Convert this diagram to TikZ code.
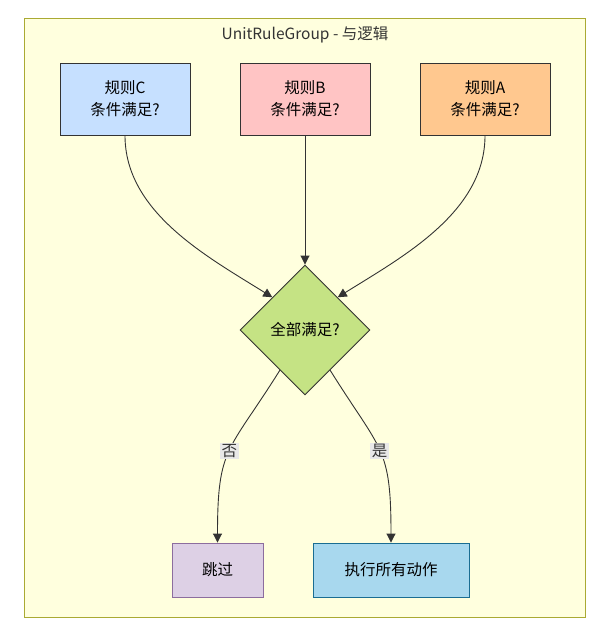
\documentclass[tikz,border=0pt]{standalone}
\usepackage{fontspec}
\setmainfont{Noto Sans CJK SC}
\usetikzlibrary{arrows.meta,shapes.geometric,positioning}
\definecolor{groupfill}{HTML}{FFFFDE}
\definecolor{groupline}{HTML}{AAAA33}
\definecolor{edgeline}{HTML}{333333}
\definecolor{rulec}{HTML}{C6E0FF}
\definecolor{ruleb}{HTML}{FFC4C4}
\definecolor{rulea}{HTML}{FFC88F}
\definecolor{checkfill}{HTML}{C5E384}
\definecolor{skipfill}{HTML}{DDD0E5}
\definecolor{skipline}{HTML}{8C6D9E}
\definecolor{actfill}{HTML}{A8D8EE}
\definecolor{actline}{HTML}{1A6D92}
\definecolor{labelfill}{HTML}{E8E8E8}
\tikzset{
  rulebox/.style={rectangle,draw=edgeline,line width=0.9pt,minimum width=130pt,minimum height=72pt,align=center,font=\fontsize{15.5}{22}\selectfont},
  check/.style={diamond,draw=edgeline,line width=0.9pt,fill=checkfill,minimum width=130pt,minimum height=130pt,inner sep=0pt,font=\fontsize{15.5}{18}\selectfont},
  endbox/.style={rectangle,line width=0.9pt,minimum height=54pt,font=\fontsize{15.5}{18}\selectfont},
  flow/.style={draw=edgeline,line width=0.9pt,->},
  edgelabel/.style={fill=labelfill,inner sep=1.5pt,font=\fontsize{15.5}{18}\selectfont,text=edgeline}
}
\begin{document}
\begin{tikzpicture}[x=1pt,y=-1pt,>={Triangle[length=9pt,width=9pt]}]
\useasboundingbox(0,0)rectangle(607,640);
%group frame and title
\draw[fill=groupfill,draw=groupline,line width=0.9pt](24,18)rectangle(585,617);
\node[font=\fontsize{15.5}{18}\selectfont,text=edgeline](title)at(305,35){UnitRuleGroup - 与逻辑};
%rule boxes
\node[rulebox,fill=rulec](ruleC)at(125,99){规则C\\条件满足?};
\node[rulebox,fill=ruleb](ruleB)at(305,99){规则B\\条件满足?};
\node[rulebox,fill=rulea](ruleA)at(485,99){规则A\\条件满足?};
%decision
\node[check](allok)at(305,330){全部满足?};
%results
\node[endbox,fill=skipfill,draw=skipline,minimum width=91pt](skip)at(217.5,570){跳过};
\node[endbox,fill=actfill,draw=actline,minimum width=156pt](act)at(391,570){执行所有动作};
%edges
\draw[flow](ruleC.south)to[out=-90,in=148,looseness=0.9](allok.north west);
\draw[flow](ruleB.south)--(allok.north);
\draw[flow](ruleA.south)to[out=-90,in=32,looseness=0.9](allok.north east);
\draw[flow](allok.-122)to[out=-122,in=90,looseness=1.35]node[edgelabel,pos=0.5]{否}(skip.north);
\draw[flow](allok.-58)to[out=-58,in=90,looseness=1.35]node[edgelabel,pos=0.5]{是}(act.north);
\end{tikzpicture}
\end{document}
